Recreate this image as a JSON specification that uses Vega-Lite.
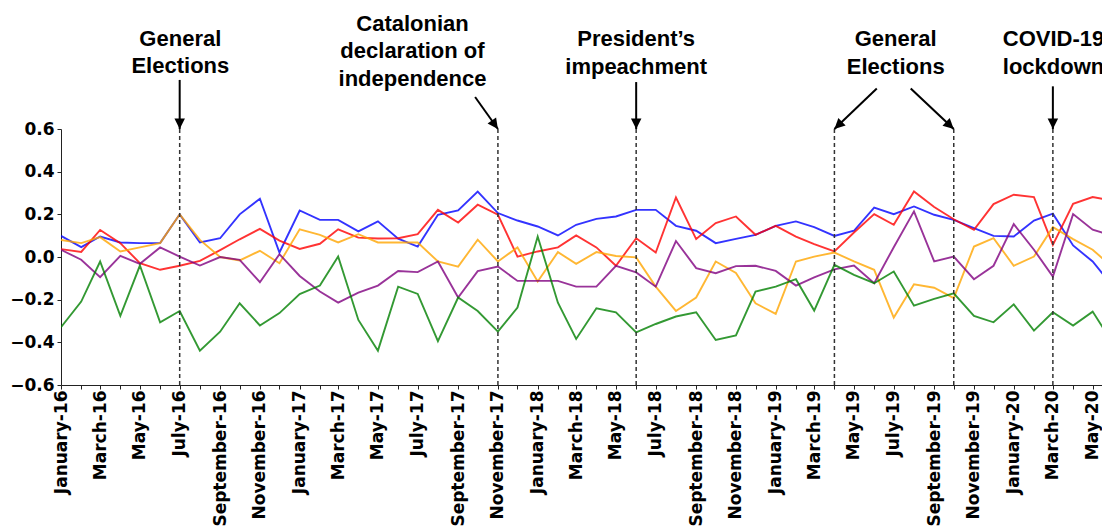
{
  "$schema": "https://vega.github.io/schema/vega-lite/v6.json",
  "width": 1041,
  "height": 256,
  "autosize": {"type": "none"},
  "padding": {"left": 61, "top": 129, "right": 0, "bottom": 141},
  "config": {"view": {"stroke": null}, "font": "DejaVu Sans"},
  "datasets": {
    "scores": [
      {"date": "2016-01-01", "blue": 0.099, "red": 0.037, "orange": 0.08, "purple": 0.034, "green": -0.329},
      {"date": "2016-02-01", "blue": 0.046, "red": 0.024, "orange": 0.065, "purple": -0.013, "green": -0.209},
      {"date": "2016-03-01", "blue": 0.096, "red": 0.127, "orange": 0.093, "purple": -0.095, "green": -0.021},
      {"date": "2016-04-01", "blue": 0.068, "red": 0.065, "orange": 0.026, "purple": 0.005, "green": -0.276},
      {"date": "2016-05-01", "blue": 0.065, "red": -0.029, "orange": 0.045, "purple": -0.032, "green": -0.04},
      {"date": "2016-06-01", "blue": 0.065, "red": -0.06, "orange": 0.065, "purple": 0.045, "green": -0.306},
      {"date": "2016-07-01", "blue": 0.2, "red": -0.041, "orange": 0.2, "purple": 0.002, "green": -0.253},
      {"date": "2016-08-01", "blue": 0.068, "red": -0.018, "orange": 0.08, "purple": -0.04, "green": -0.439},
      {"date": "2016-09-01", "blue": 0.088, "red": 0.032, "orange": 0.0, "purple": 0.0, "green": -0.35},
      {"date": "2016-10-01", "blue": 0.2, "red": 0.083, "orange": -0.016, "purple": -0.013, "green": -0.217},
      {"date": "2016-11-01", "blue": 0.273, "red": 0.132, "orange": 0.029, "purple": -0.118, "green": -0.321},
      {"date": "2016-12-01", "blue": 0.021, "red": 0.077, "orange": -0.029, "purple": 0.013, "green": -0.263},
      {"date": "2017-01-01", "blue": 0.218, "red": 0.038, "orange": 0.13, "purple": -0.089, "green": -0.174},
      {"date": "2017-02-01", "blue": 0.174, "red": 0.062, "orange": 0.104, "purple": -0.162, "green": -0.134},
      {"date": "2017-03-01", "blue": 0.174, "red": 0.13, "orange": 0.068, "purple": -0.214, "green": 0.002},
      {"date": "2017-04-01", "blue": 0.12, "red": 0.091, "orange": 0.107, "purple": -0.167, "green": -0.295},
      {"date": "2017-05-01", "blue": 0.167, "red": 0.087, "orange": 0.068, "purple": -0.134, "green": -0.439},
      {"date": "2017-06-01", "blue": 0.086, "red": 0.088, "orange": 0.068, "purple": -0.066, "green": -0.139},
      {"date": "2017-07-01", "blue": 0.049, "red": 0.107, "orange": 0.068, "purple": -0.071, "green": -0.173},
      {"date": "2017-08-01", "blue": 0.198, "red": 0.221, "orange": -0.021, "purple": -0.021, "green": -0.394},
      {"date": "2017-09-01", "blue": 0.218, "red": 0.162, "orange": -0.045, "purple": -0.19, "green": -0.19},
      {"date": "2017-10-01", "blue": 0.307, "red": 0.245, "orange": 0.081, "purple": -0.066, "green": -0.253},
      {"date": "2017-11-01", "blue": 0.206, "red": 0.198, "orange": -0.021, "purple": -0.045, "green": -0.35},
      {"date": "2017-12-01", "blue": 0.171, "red": 0.002, "orange": 0.045, "purple": -0.112, "green": -0.237},
      {"date": "2018-01-01", "blue": 0.143, "red": 0.026, "orange": -0.115, "purple": -0.112, "green": 0.096},
      {"date": "2018-02-01", "blue": 0.101, "red": 0.045, "orange": 0.023, "purple": -0.112, "green": -0.214},
      {"date": "2018-03-01", "blue": 0.151, "red": 0.101, "orange": -0.032, "purple": -0.139, "green": -0.384},
      {"date": "2018-04-01", "blue": 0.179, "red": 0.045, "orange": 0.023, "purple": -0.139, "green": -0.24},
      {"date": "2018-05-01", "blue": 0.19, "red": -0.041, "orange": 0.005, "purple": -0.041, "green": -0.259},
      {"date": "2018-06-01", "blue": 0.221, "red": 0.088, "orange": -0.002, "purple": -0.072, "green": -0.353},
      {"date": "2018-07-01", "blue": 0.221, "red": 0.021, "orange": -0.139, "purple": -0.139, "green": -0.314},
      {"date": "2018-08-01", "blue": 0.146, "red": 0.279, "orange": -0.253, "purple": 0.075, "green": -0.279},
      {"date": "2018-09-01", "blue": 0.123, "red": 0.084, "orange": -0.19, "purple": -0.052, "green": -0.259},
      {"date": "2018-10-01", "blue": 0.065, "red": 0.159, "orange": -0.021, "purple": -0.076, "green": -0.389},
      {"date": "2018-11-01", "blue": 0.085, "red": 0.19, "orange": -0.075, "purple": -0.043, "green": -0.368},
      {"date": "2018-12-01", "blue": 0.104, "red": 0.104, "orange": -0.217, "purple": -0.041, "green": -0.162},
      {"date": "2019-01-01", "blue": 0.146, "red": 0.146, "orange": -0.267, "purple": -0.065, "green": -0.139},
      {"date": "2019-02-01", "blue": 0.167, "red": 0.096, "orange": -0.021, "purple": -0.134, "green": -0.104},
      {"date": "2019-03-01", "blue": 0.14, "red": 0.06, "orange": 0.002, "purple": -0.095, "green": -0.251},
      {"date": "2019-04-01", "blue": 0.099, "red": 0.026, "orange": 0.021, "purple": -0.058, "green": -0.037},
      {"date": "2019-05-01", "blue": 0.123, "red": 0.115, "orange": -0.021, "purple": -0.04, "green": -0.084},
      {"date": "2019-06-01", "blue": 0.232, "red": 0.201, "orange": -0.06, "purple": -0.123, "green": -0.123},
      {"date": "2019-07-01", "blue": 0.201, "red": 0.151, "orange": -0.284, "purple": 0.046, "green": -0.068},
      {"date": "2019-08-01", "blue": 0.237, "red": 0.307, "orange": -0.128, "purple": 0.214, "green": -0.228},
      {"date": "2019-09-01", "blue": 0.198, "red": 0.234, "orange": -0.144, "purple": -0.021, "green": -0.196},
      {"date": "2019-10-01", "blue": 0.174, "red": 0.177, "orange": -0.193, "purple": 0.002, "green": -0.17},
      {"date": "2019-11-01", "blue": 0.135, "red": 0.127, "orange": 0.049, "purple": -0.104, "green": -0.276},
      {"date": "2019-12-01", "blue": 0.099, "red": 0.248, "orange": 0.088, "purple": -0.041, "green": -0.306},
      {"date": "2020-01-01", "blue": 0.096, "red": 0.292, "orange": -0.041, "purple": 0.154, "green": -0.222},
      {"date": "2020-02-01", "blue": 0.171, "red": 0.281, "orange": 0.002, "purple": 0.034, "green": -0.345},
      {"date": "2020-03-01", "blue": 0.203, "red": 0.057, "orange": 0.14, "purple": -0.092, "green": -0.259},
      {"date": "2020-04-01", "blue": 0.054, "red": 0.249, "orange": 0.084, "purple": 0.201, "green": -0.321},
      {"date": "2020-05-01", "blue": -0.021, "red": 0.281, "orange": 0.034, "purple": 0.128, "green": -0.256},
      {"date": "2020-06-01", "blue": -0.138, "red": 0.264, "orange": -0.049, "purple": 0.1, "green": -0.405}
    ],
    "events": [
      {"date": "2016-07-01"},
      {"date": "2017-11-01"},
      {"date": "2018-06-01"},
      {"date": "2019-04-01"},
      {"date": "2019-10-01"},
      {"date": "2020-03-01"}
    ],
    "notes": [
      {"date": "2016-07-02", "y": 0.991, "label": "General\nElections"},
      {"date": "2017-06-23", "y": 1.061, "label": "Catalonian\ndeclaration of\nindependence"},
      {"date": "2018-06-01", "y": 0.989, "label": "President’s\nimpeachment"},
      {"date": "2019-07-04", "y": 0.989, "label": "General\nElections"},
      {"date": "2020-03-02", "y": 0.989, "label": "COVID-19\nlockdown"}
    ],
    "arrows": [
      {"from": "2016-07-01", "fromY": 0.83, "to": "2016-07-01", "toY": 0.6, "dir": "down"},
      {"from": "2017-09-27", "fromY": 0.75, "to": "2017-11-01", "toY": 0.6, "dir": "downright35"},
      {"from": "2018-06-01", "fromY": 0.82, "to": "2018-06-01", "toY": 0.6, "dir": "down"},
      {"from": "2019-06-05", "fromY": 0.79, "to": "2019-04-01", "toY": 0.6, "dir": "downleft"},
      {"from": "2019-07-27", "fromY": 0.79, "to": "2019-10-01", "toY": 0.6, "dir": "downright47"},
      {"from": "2020-03-01", "fromY": 0.8, "to": "2020-03-01", "toY": 0.6, "dir": "down"}
    ]
  },
  "encoding": {
    "x": {
      "field": "date",
      "type": "temporal",
      "scale": {
        "type": "utc",
        "domain": [
          {"year": 2016, "month": 1, "date": 1, "utc": true},
          {"year": 2020, "month": 5, "date": 15, "hours": 8, "utc": true}
        ]
      },
      "axis": {
        "title": null,
        "grid": false,
        "tickCount": {"interval": "month", "step": 1},
        "labelExpr": "utcmonth(datum.value) % 2 == 0 ? utcFormat(datum.value, '%B-%y') : ''",
        "labelAngle": 270,
        "labelAlign": "right",
        "labelBaseline": "middle",
        "labelFontSize": 17,
        "labelFontWeight": "bold",
        "labelColor": "#000000",
        "labelOverlap": false,
        "labelBound": false,
        "labelFlush": false,
        "tickSize": 4,
        "labelPadding": 1,
        "domainColor": "#222222",
        "tickColor": "#222222"
      }
    }
  },
  "layer": [
    {
      "data": {"name": "scores"},
      "transform": [{"fold": ["blue", "red", "orange", "purple", "green"], "as": ["series", "value"]}],
      "mark": {"type": "line", "clip": true, "strokeWidth": 1.9, "strokeOpacity": 0.8},
      "encoding": {
        "y": {
          "field": "value",
          "type": "quantitative",
          "scale": {"domain": [-0.6, 0.6], "nice": false, "zero": false},
          "axis": {
            "title": null,
            "grid": false,
            "values": [-0.6, -0.4, -0.2, 0, 0.2, 0.4, 0.6],
            "format": ".1f",
            "labelFontSize": 17,
            "labelFontWeight": "bold",
            "labelColor": "#000000",
            "tickSize": 4,
            "labelPadding": 3,
            "domainColor": "#222222",
            "tickColor": "#222222"
          }
        },
        "color": {
          "field": "series",
          "type": "nominal",
          "legend": null,
          "scale": {
            "domain": ["blue", "red", "orange", "purple", "green"],
            "range": ["#0000ff", "#ff0000", "#ffa500", "#800080", "#008000"]
          }
        }
      }
    },
    {
      "mark": {"type": "rule", "color": "#444444", "strokeWidth": 2.5, "strokeDash": [8, 5]},
      "encoding": {"y": {"datum": 0, "type": "quantitative"}}
    },
    {
      "mark": {"type": "rule", "color": "#222222", "strokeWidth": 1},
      "encoding": {"y": {"datum": 0.6, "type": "quantitative"}}
    },
    {
      "data": {"name": "events"},
      "mark": {"type": "rule", "color": "#333333", "strokeWidth": 1.5, "strokeDash": [4, 3]},
      "encoding": {}
    },
    {
      "data": {"name": "notes"},
      "mark": {
        "type": "text",
        "font": "Liberation Sans",
        "fontWeight": "bold",
        "fontSize": 22,
        "lineBreak": "\n",
        "lineHeight": 27.5,
        "align": "center",
        "baseline": "alphabetic",
        "color": "#000000"
      },
      "encoding": {
        "y": {"field": "y", "type": "quantitative"},
        "text": {"field": "label", "type": "nominal"}
      }
    },
    {
      "data": {"name": "arrows"},
      "mark": {"type": "rule", "color": "#000000", "strokeWidth": 2},
      "encoding": {
        "x": {"field": "from", "type": "temporal"},
        "x2": {"field": "to"},
        "y": {"field": "fromY", "type": "quantitative"},
        "y2": {"field": "toY"}
      }
    },
    {
      "data": {"name": "arrows"},
      "transform": [{"filter": "datum.dir == 'down'"}],
      "mark": {"type": "point", "shape": "M0,0L-0.5,-1L0.5,-1Z", "size": 441, "filled": true, "color": "#000000", "opacity": 1, "angle": 0},
      "encoding": {
        "x": {"field": "to", "type": "temporal"},
        "y": {"field": "toY", "type": "quantitative"}
      }
    },
    {
      "data": {"name": "arrows"},
      "transform": [{"filter": "datum.dir == 'downright35'"}],
      "mark": {"type": "point", "shape": "M0,0L-0.5,-1L0.5,-1Z", "size": 441, "filled": true, "color": "#000000", "opacity": 1, "angle": 324.5},
      "encoding": {
        "x": {"field": "to", "type": "temporal"},
        "y": {"field": "toY", "type": "quantitative"}
      }
    },
    {
      "data": {"name": "arrows"},
      "transform": [{"filter": "datum.dir == 'downleft'"}],
      "mark": {"type": "point", "shape": "M0,0L-0.5,-1L0.5,-1Z", "size": 441, "filled": true, "color": "#000000", "opacity": 1, "angle": 46.3},
      "encoding": {
        "x": {"field": "to", "type": "temporal"},
        "y": {"field": "toY", "type": "quantitative"}
      }
    },
    {
      "data": {"name": "arrows"},
      "transform": [{"filter": "datum.dir == 'downright47'"}],
      "mark": {"type": "point", "shape": "M0,0L-0.5,-1L0.5,-1Z", "size": 441, "filled": true, "color": "#000000", "opacity": 1, "angle": 313.2},
      "encoding": {
        "x": {"field": "to", "type": "temporal"},
        "y": {"field": "toY", "type": "quantitative"}
      }
    }
  ]
}
